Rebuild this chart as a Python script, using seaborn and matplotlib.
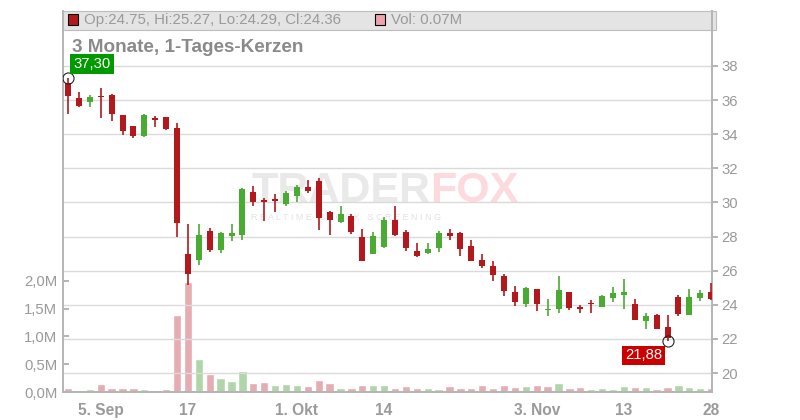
import numpy as np
import pandas as pd
import matplotlib.pyplot as plt
import seaborn as sns
from matplotlib.patches import Rectangle

# daily candles (index 0 = first day shown)
opens = [36.99, 36.13, 35.91, 36.25, 36.32, 35.13, 34.49, 33.87, 34.90, 35.00,
         34.36, 27.00, 26.61, 28.35, 27.20, 28.06, 28.12, 30.63, 30.12, 30.16,
         29.89, 30.36, 30.92, 31.23, 29.46, 28.84, 29.23, 28.00, 26.97, 27.37,
         29.00, 28.29, 27.18, 27.02, 27.32, 28.23, 28.23, 27.47, 26.60, 26.25,
         25.66, 24.73, 24.04, 24.90, 23.69, 23.75, 24.73, 23.87, 24.10, 23.87,
         24.39, 24.57, 24.02, 23.05, 23.38, 22.68, 24.43, 23.40, 24.39, 24.75]
highs = [37.30, 36.48, 36.32, 36.71, 36.35, 35.15, 34.50, 35.20, 35.08, 35.02,
         34.65, 28.71, 28.71, 28.53, 28.29, 28.76, 30.87, 30.98, 30.28, 30.47,
         30.69, 31.00, 31.33, 31.41, 29.50, 29.81, 29.30, 28.47, 28.29, 29.13,
         29.77, 28.41, 27.65, 27.65, 28.35, 28.47, 28.25, 27.77, 26.95, 26.54,
         25.78, 25.08, 25.02, 24.92, 24.32, 25.66, 24.75, 23.99, 24.27, 24.57,
         25.02, 25.54, 24.32, 23.50, 23.44, 23.38, 24.55, 24.90, 24.84, 25.27]
lows = [35.18, 35.60, 35.60, 34.92, 34.78, 33.98, 33.75, 33.85, 34.45, 34.22,
        27.96, 25.16, 26.33, 27.08, 27.02, 27.73, 27.82, 29.81, 28.94, 29.46,
        29.77, 30.01, 30.53, 28.37, 28.08, 28.82, 28.13, 26.54, 26.95, 27.35,
        28.02, 27.14, 26.79, 27.00, 27.08, 27.79, 26.85, 26.54, 26.15, 25.39,
        24.51, 23.92, 23.87, 23.63, 23.34, 23.52, 23.69, 23.52, 23.50, 23.85,
        24.16, 23.75, 23.09, 22.58, 22.56, 21.88, 23.34, 23.38, 24.22, 24.29]
closes = [36.26, 35.68, 36.19, 36.17, 35.21, 34.16, 33.87, 35.13, 34.85, 34.28,
          28.78, 25.80, 28.12, 27.20, 28.18, 28.23, 30.81, 30.05, 30.05, 30.10,
          30.53, 30.92, 30.65, 29.07, 28.99, 29.35, 28.25, 26.56, 28.06, 29.00,
          28.08, 27.32, 26.85, 27.30, 28.23, 28.02, 27.26, 26.56, 26.26, 25.74,
          24.80, 24.16, 24.96, 24.04, 23.77, 24.84, 23.81, 23.75, 24.05, 24.49,
          24.69, 24.78, 23.11, 23.32, 22.58, 22.05, 23.46, 24.43, 24.67, 24.36]

# volume in millions, and whether the bar is drawn green (up) or red (down)
volumes = [0.07, 0.04, 0.05, 0.14, 0.07, 0.07, 0.07, 0.06, 0.04, 0.06,
           1.39, 1.98, 0.59, 0.32, 0.25, 0.20, 0.37, 0.16, 0.18, 0.13,
           0.14, 0.13, 0.11, 0.21, 0.16, 0.07, 0.07, 0.13, 0.13, 0.13,
           0.07, 0.11, 0.07, 0.07, 0.05, 0.11, 0.07, 0.07, 0.13, 0.07,
           0.13, 0.09, 0.11, 0.13, 0.11, 0.16, 0.07, 0.09, 0.05, 0.07,
           0.05, 0.11, 0.09, 0.09, 0.05, 0.09, 0.13, 0.09, 0.07, 0.07]
vol_dir = ['d', 'd', 'u', 'd', 'd', 'd', 'd', 'u', 'd', 'd',
           'd', 'd', 'u', 'd', 'u', 'u', 'u', 'd', 'd', 'u',
           'u', 'u', 'd', 'd', 'd', 'u', 'd', 'd', 'u', 'u',
           'd', 'd', 'd', 'u', 'u', 'd', 'd', 'd', 'd', 'd',
           'd', 'd', 'u', 'd', 'd', 'u', 'd', 'd', 'u', 'u',
           'u', 'u', 'd', 'u', 'd', 'd', 'u', 'u', 'u', 'd']

date_pos = [3, 11, 21, 29, 43, 51, 59]
date_labels = ['5. Sep', '17', '1. Okt', '14', '3. Nov', '13', '28']
price_ticks = [20, 22, 24, 26, 28, 30, 32, 34, 36, 38]
vol_ticks = [0.0, 0.5, 1.0, 1.5, 2.0]

RED = '#b3191c'
GREEN = '#4aab33'
GRAY = '#9a9a9a'

sns.set_theme(style='white')
plt.rcParams['font.family'] = ['Liberation Sans', 'DejaVu Sans']

df = pd.DataFrame({'day': np.arange(len(volumes)), 'vol': volumes, 'dir': vol_dir})

fig = plt.figure(figsize=(8, 4.2), dpi=100)
fig.patch.set_facecolor('white')

# header band behind the axes
fig.patches.append(Rectangle((63 / 800, 1 - 30 / 420), 653 / 800, 19 / 420,
                             transform=fig.transFigure, facecolor='#e4e4e4',
                             edgecolor='#bdbdbd', lw=0.8, zorder=0))

rect = [63 / 800, 28 / 420, 649 / 800, 381 / 420]
axv = fig.add_axes(rect, zorder=1)
ax = axv.twinx()
ax.set_zorder(2)
for a in (ax, axv):
    a.patch.set_visible(False)

# volume bars
sns.barplot(data=df, x='day', y='vol', hue='dir', palette={'u': '#a9dca2', 'd': '#eea3ab'},
            native_scale=True, dodge=False, width=0.76, legend=False, ax=axv)
axv.set_ylim(0, 6.86)
axv.set_yticks(vol_ticks)
axv.set_yticklabels([f'{v:.1f}M'.replace('.', ',') for v in vol_ticks])
axv.yaxis.tick_left()
axv.tick_params(axis='y', direction='in', length=4, color='#aaaaaa', pad=4,
                labelsize=10.7, labelcolor=GRAY, left=True)
axv.set_xlabel('')
axv.set_ylabel('')

# candles
idx = np.arange(len(opens))
o = np.array(opens)
c = np.array(closes)
cols = [GREEN if cc > oo else RED for oo, cc in zip(o, c)]
ax.vlines(idx, lows, highs, colors=cols, lw=1.2, zorder=3)
body = np.maximum(np.abs(c - o), 0.08)
ax.bar(idx, body, bottom=np.minimum(o, c), width=0.55, color=cols, lw=0, zorder=4)

ax.set_xlim(-0.46, 59.08)
ax.set_ylim(18.89, 41.22)
ax.set_yticks(price_ticks)
ax.yaxis.tick_right()
ax.tick_params(axis='y', direction='out', length=4, color='#aaaaaa', pad=3,
               labelsize=10.7, labelcolor=GRAY, right=True)
ax.set_xticks(date_pos)
axv.set_xticks(date_pos)
axv.set_xticklabels(date_labels, fontweight='bold')
axv.tick_params(axis='x', length=0, pad=8, labelsize=11.2, labelcolor=GRAY)
ax.tick_params(axis='x', length=0, labelbottom=False)
axv.set_xlim(-0.46, 59.08)

ax.grid(True, color='#dadada', lw=1)
ax.set_axisbelow(True)
for a in (ax, axv):
    for s in ('left', 'right', 'bottom'):
        a.spines[s].set_color('#b5b5b5')
    a.spines['top'].set_visible(False)

# watermark
ax.text(0.566, 0.527, 'TRADER', transform=ax.transAxes, fontsize=31, fontweight='bold',
        color='#e9e9e9', ha='right', va='center', zorder=0)
ax.text(0.566, 0.527, 'FOX', transform=ax.transAxes, fontsize=31, fontweight='bold',
        color='#fcdadd', ha='left', va='center', zorder=0)
ax.text(0.29, 0.457, 'R E A L T I M E   S T O C K   S C R E E N I N G', transform=ax.transAxes,
        fontsize=6.5, color='#e2e2e2', ha='left', va='center', zorder=0)

# high / low markers
ax.plot([0], [highs[0]], 'o', ms=8, mfc='none', mec='#222222', mew=0.8, zorder=5)
ax.plot([55], [lows[55]], 'o', ms=8, mfc='none', mec='#222222', mew=0.8, zorder=5)
ax.annotate(f'{highs[0]:.2f}'.replace('.', ','), (0, highs[0]), xytext=(24, 13.5),
            textcoords='offset pixels', ha='center', va='center', color='white', fontsize=10.7,
            bbox=dict(boxstyle='square,pad=0.2', fc='#009a00', ec='none'), zorder=6)
ax.annotate(f'{lows[55]:.2f}'.replace('.', ','), (55, lows[55]), xytext=(-24, -14.5),
            textcoords='offset pixels', ha='center', va='center', color='white', fontsize=10.7,
            bbox=dict(boxstyle='square,pad=0.2', fc='#cc0000', ec='none'), zorder=6)

# header texts
fig.patches.append(Rectangle((68 / 800, 1 - 25 / 420), 10 / 800, 11 / 420, transform=fig.transFigure,
                             facecolor=RED, edgecolor='black', lw=0.8, zorder=3))
fig.text(84 / 800, 1 - 20 / 420, f'Op:{opens[-1]:.2f}, Hi:{highs[-1]:.2f}, Lo:{lows[-1]:.2f}, Cl:{closes[-1]:.2f}',
         fontsize=10.8, color=GRAY, va='center', ha='left', zorder=3)
fig.patches.append(Rectangle((375 / 800, 1 - 25 / 420), 10 / 800, 11 / 420, transform=fig.transFigure,
                             facecolor='#eea3ab', edgecolor='black', lw=0.8, zorder=3))
fig.text(391 / 800, 1 - 20 / 420, f'Vol: {volumes[-1]:.2f}M', fontsize=10.8, color=GRAY,
         va='center', ha='left', zorder=3)
fig.text(72 / 800, 1 - 47 / 420, '3 Monate, 1-Tages-Kerzen', fontsize=13.6, fontweight='bold',
         color='#8a8a8a', va='center', ha='left', zorder=3)

plt.savefig('out.png', dpi=100)
